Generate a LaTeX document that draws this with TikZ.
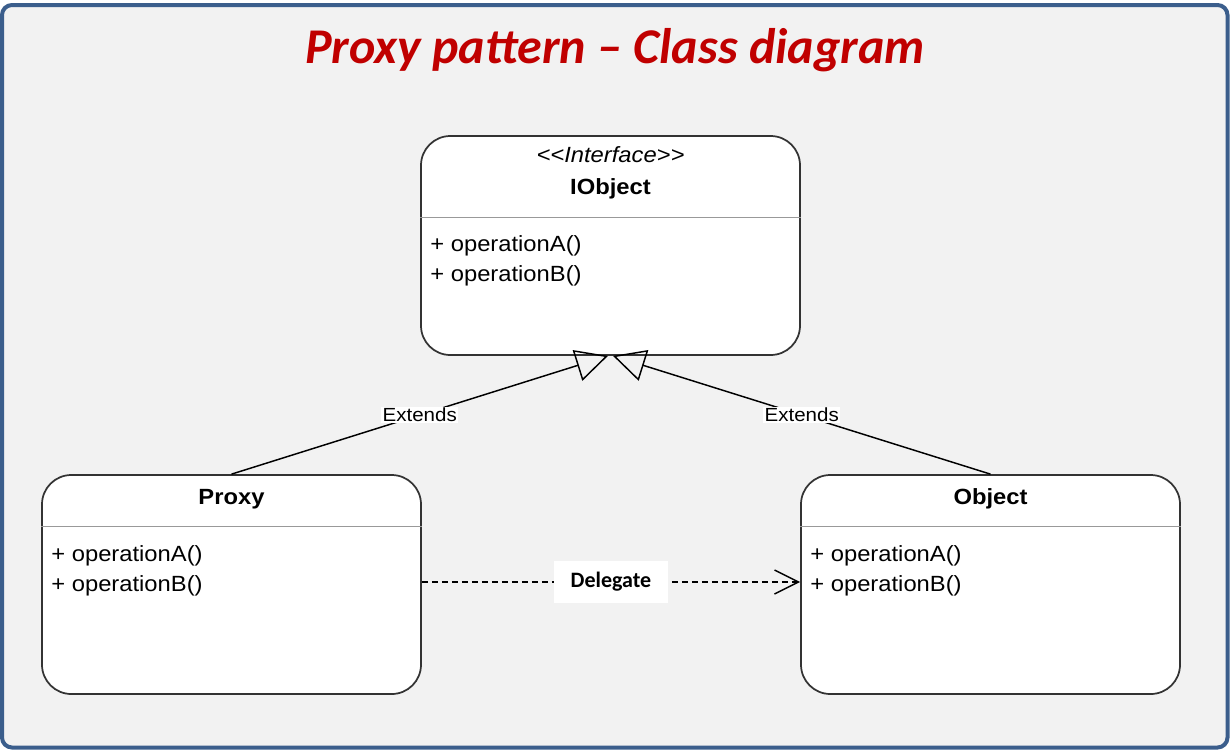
\documentclass[tikz,border=0pt]{standalone}
\usepackage{fontspec}
\usepackage{tikz}
\usetikzlibrary{arrows.meta,positioning,calc}
\newfontfamily\umlfont[FakeStretch=1.08]{Liberation Sans}
\newfontfamily\titlefont[Ligatures=TeX]{Carlito}
\definecolor{framblue}{HTML}{3B5E8C}
\definecolor{pagegrey}{HTML}{F2F2F2}
\definecolor{titlered}{HTML}{C00000}
\definecolor{boxline}{HTML}{333333}
\definecolor{divgrey}{HTML}{999999}

\begin{document}
\begin{tikzpicture}[x=0.75pt, y=-0.75pt,
  classbox/.style={draw=boxline, line width=1.3pt, fill=white, rounded corners=22pt,
    minimum width=284.25pt, minimum height=164.25pt, inner sep=0pt},
  divider/.style={draw=divgrey, line width=0.9pt},
  umltext/.style={inner sep=0pt, font=\umlfont\fontsize{16.5pt}{19pt}\selectfont},
  umlname/.style={umltext, font=\umlfont\bfseries\fontsize{16.5pt}{19pt}\selectfont},
  edgelabel/.style={fill=white, inner sep=1pt, font=\umlfont\fontsize{14.25pt}{16pt}\selectfont},
  extends/.style={line width=1.1pt, -{Triangle[open, length=24pt, width=24pt, line width=1.1pt]}},
  delegate/.style={line width=1.1pt, dash pattern=on 4.5pt off 3pt,
    -{Straight Barb[length=18pt, width=18pt, line width=1.1pt]}}]
% frame and background
\useasboundingbox (0,0) rectangle (1232,751);
\draw[draw=framblue, fill=pagegrey, line width=3pt, rounded corners=7.5pt] (2,5) rectangle (1227.5,747.5);

% title
\node[text=titlered, font=\titlefont\bfseries\itshape\fontsize{37.5pt}{42pt}\selectfont, anchor=base] (title) at (615,63) {Proxy pattern – Class diagram};

% classes
\node[classbox] (iobject) at (610.5,245.5) {};
\node[classbox] (proxy) at (231.5,584.5) {};
\node[classbox] (object) at (990.5,584.5) {};

% IObject
\node[umltext, anchor=base, font=\umlfont\itshape\fontsize{16.5pt}{19pt}\selectfont] (iobjst) at ($(iobject.north)+(0,27)$) {<{}<Interface>{}>};
\node[umlname, anchor=base] (iobjname) at ($(iobject.north)+(0,59)$) {IObject};
\draw[divider] ($(iobject.north west)+(0,82)$) -- ($(iobject.north east)+(0,82)$);
\node[umltext, anchor=base west] (iobjopa) at ($(iobject.north west)+(10,116)$) {+ operationA()};
\node[umltext, anchor=base west] (iobjopb) at ($(iobject.north west)+(10,146)$) {+ operationB()};

% Proxy
\node[umlname, anchor=base] (proxyname) at ($(proxy.north)+(0,30)$) {Proxy};
\draw[divider] ($(proxy.north west)+(0,52)$) -- ($(proxy.north east)+(0,52)$);
\node[umltext, anchor=base west] (proxyopa) at ($(proxy.north west)+(10,87)$) {+ operationA()};
\node[umltext, anchor=base west] (proxyopb) at ($(proxy.north west)+(10,117)$) {+ operationB()};

% Object
\node[umlname, anchor=base] (objname) at ($(object.north)+(0,30)$) {Object};
\draw[divider] ($(object.north west)+(0,52)$) -- ($(object.north east)+(0,52)$);
\node[umltext, anchor=base west] (objopa) at ($(object.north west)+(10,87)$) {+ operationA()};
\node[umltext, anchor=base west] (objopb) at ($(object.north west)+(10,117)$) {+ operationB()};

% connectors
\coordinate (iobjl) at ($(iobject.south)+(-2.5,0)$);
\coordinate (iobjr) at ($(iobject.south)+(2.5,0)$);
\coordinate (proxyr) at ($(proxy.east)+(0,-2.5)$);
\coordinate (objectl) at ($(object.west)+(0,-2.5)$);
\draw[extends] (proxy.north) -- node[edgelabel] (extl) {Extends} (iobjl);
\draw[extends] (object.north) -- node[edgelabel] (extr) {Extends} (iobjr);
\draw[delegate] (proxyr) -- node[fill=white, minimum width=85.5pt, minimum height=32pt, inner sep=0pt, font=\titlefont\bfseries\fontsize{16.5pt}{19pt}\selectfont] (deleg) {Delegate} (objectl);
\end{tikzpicture}
\end{document}
